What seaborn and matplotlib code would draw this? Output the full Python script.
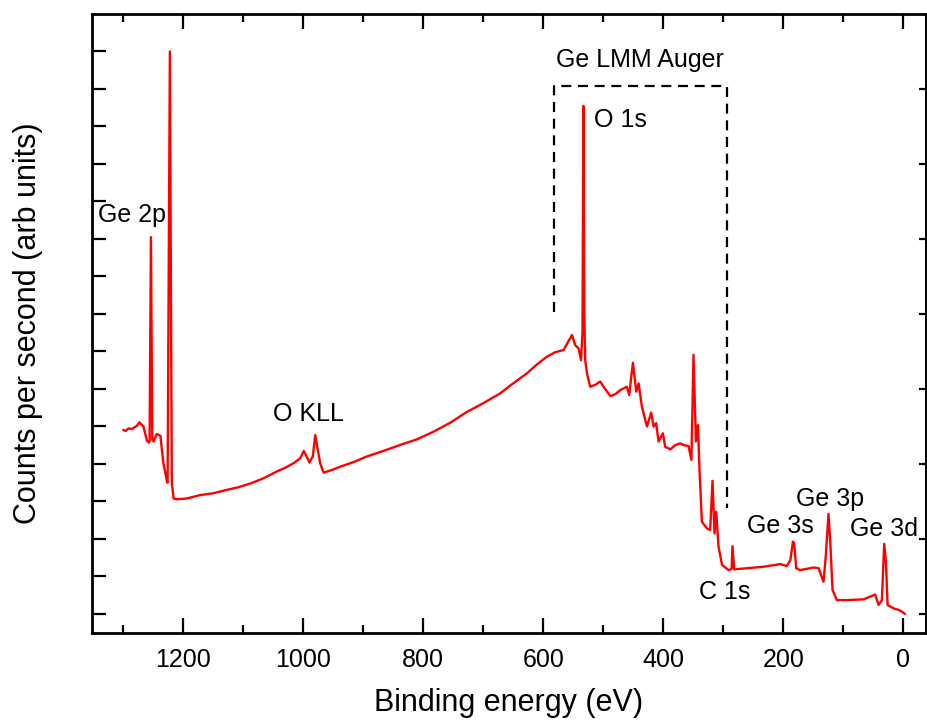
import matplotlib
matplotlib.use("Agg")
import matplotlib.pyplot as plt
import seaborn as sns
import pandas as pd

# ---- data (binding energy in eV, counts in arbitrary units) ----
energy = [1300, 1296, 1291, 1286, 1282, 1277, 1273, 1266, 1260.5, 1257, 1256, 1253.8, 1251.5, 1249.5,
          1244, 1238, 1233, 1227, 1226, 1222.2, 1219, 1216, 1210.5, 1194, 1172,
          1150, 1127, 1108, 1088, 1066, 1044, 1030, 1016, 1005, 999, 989.5, 984, 980, 971.7, 966, 952, 938,
          916, 894, 866, 838, 810, 783, 755, 727, 700, 672, 650, 627, 610, 594, 580, 566, 552, 546.7, 541, 537, 534.5,
          533, 531.5, 530, 527, 521.7, 512, 505, 499.5, 488, 480, 471.7, 460.5, 456.7,
          450.5, 445, 441, 435.5, 427, 420, 416, 411.7, 407.8, 400.5, 396.7,
          388, 380, 371.7, 365, 357.8, 353, 349.5, 345.5, 342, 339.5, 338, 335.5, 327,
          321.7, 317.8, 314.5, 311.7, 307.8, 302, 291, 286, 284.5, 281.7,
          260.5, 232.8, 205, 194, 188, 183.8, 181.7, 178.3, 171.7, 149.5, 141,
          132.8, 128.9, 124.5, 121.7, 117.8, 110.5, 93.8, 66, 46.7, 41, 35.5,
          31.7, 28.8, 26, 16, 7.8, 2, -3]
counts = [4.91, 4.88, 4.95, 4.93, 4.97, 5.02, 5.11, 4.99, 4.62, 4.57, 4.6, 10.05, 4.65, 4.6,
          4.8, 4.75, 4.02, 3.53, 3.5, 15.0, 3.5, 3.08, 3.06, 3.08, 3.17,
          3.22, 3.31, 3.38, 3.48, 3.62, 3.8, 3.9, 4.02, 4.15, 4.35, 4.04, 4.2, 4.77, 4.02, 3.77, 3.84, 3.93,
          4.05, 4.2, 4.35, 4.51, 4.66, 4.86, 5.1, 5.39, 5.62, 5.88, 6.15, 6.42, 6.66, 6.86, 6.98, 7.04, 7.44, 7.17, 7.08, 6.77, 7.5,
          13.55, 8.0, 6.77, 6.42, 6.06, 6.12, 6.2, 6.06, 5.81, 5.86, 5.97, 6.06, 5.84,
          6.7, 5.93, 6.15, 5.53, 5.0, 5.37, 5.0, 5.09, 4.6, 4.82, 4.46,
          4.39, 4.5, 4.55, 4.5, 4.48, 4.11, 6.91, 4.6, 5.04, 3.84, 3.31, 2.46, 2.28,
          2.24, 3.55, 2.15, 2.73, 1.8, 1.31, 1.17, 1.2, 1.81, 1.19,
          1.22, 1.26, 1.33, 1.28, 1.44, 1.93, 1.89, 1.22, 1.17, 1.24, 1.22,
          0.86, 1.57, 2.67, 1.97, 0.64, 0.37, 0.37, 0.39, 0.52, 0.24, 0.37,
          1.87, 1.4, 0.24, 0.15, 0.11, 0.06, 0.0]

peak_labels = ["Ge 2p", "O KLL", "O 1s", "C 1s", "Ge 3s", "Ge 3p", "Ge 3d"]
label_x = [1285, 992, 515, 297, 205, 122, 32.5]
label_y = [10.64, 5.33, 13.17, 0.59, 2.35, 3.07, 2.27]
label_ha = ["center", "center", "left", "center", "center", "center", "center"]

auger_label = "Ge LMM Auger"
auger_left, auger_right = 582, 293
auger_top, auger_left_bottom, auger_right_bottom = 14.08, 8.05, 2.83

x_major = [0, 200, 400, 600, 800, 1000, 1200]
x_minor = [100, 300, 500, 700, 900, 1100, 1300]

sns.set_style("ticks")
plt.rcParams["font.family"] = ["Liberation Sans", "DejaVu Sans"]
plt.rcParams["text.color"] = "black"
plt.rcParams["axes.labelcolor"] = "black"
plt.rcParams["xtick.color"] = "black"
plt.rcParams["ytick.color"] = "black"

fig = plt.figure(figsize=(9.27, 7.24), dpi=100)
ax = fig.add_axes([92 / 927, 1 - 633 / 724, (926 - 92) / 927, (633 - 14) / 724])

df = pd.DataFrame({"energy": energy, "counts": counts})
sns.lineplot(data=df, x="energy", y="counts", ax=ax, color="#ff0000",
             linewidth=1.7, estimator=None, sort=False)

ax.set_xlim(1352, -38)
ax.set_ylim(-0.507, 16.0)

# dashed Auger box
ax.plot([auger_left, auger_left, auger_right, auger_right],
        [auger_left_bottom, auger_top, auger_top, auger_right_bottom],
        color="black", linestyle=(0, (4.5, 3)), linewidth=1.6)
ax.text((auger_left + auger_right) / 2 + 2, auger_top + 0.7, auger_label,
        ha="center", va="center", fontsize=18, color="black")

for lab, lx, ly, ha in zip(peak_labels, label_x, label_y, label_ha):
    ax.text(lx, ly, lab, ha=ha, va="center", fontsize=18, color="black")

# spines
for s in ax.spines.values():
    s.set_visible(True)
    s.set_linewidth(2.0)
    s.set_color("black")

ax.set_xticks(x_major)
ax.set_xticks(x_minor, minor=True)
ax.set_xticklabels([str(v) for v in x_major])
ax.set_yticks(list(range(0, 16)))
ax.set_yticklabels([])
ax.tick_params(axis="x", which="major", direction="in", length=11, width=1.6,
               top=True, bottom=True, labelsize=18, pad=11, colors="black")
ax.tick_params(axis="x", which="minor", direction="in", length=5.5, width=1.6,
               top=True, bottom=True, colors="black")
ax.tick_params(axis="y", which="major", direction="in", length=10, width=1.6,
               left=True, right=False, colors="black")
ax.tick_params(axis="y", which="minor", left=False, right=False)

sec = ax.secondary_yaxis("right")
sec.set_yticks(list(range(0, 16, 2)))
sec.set_yticklabels([])
sec.tick_params(direction="in", length=5, width=1.6, colors="black")
sec.spines["right"].set_linewidth(2.0)
sec.spines["right"].set_color("black")

ax.set_xlabel("Binding energy (eV)", fontsize=22, labelpad=11, color="black")
ax.set_ylabel("Counts per second (arb units)", fontsize=22, labelpad=32, color="black")

fig.savefig("out.png", dpi=100)
